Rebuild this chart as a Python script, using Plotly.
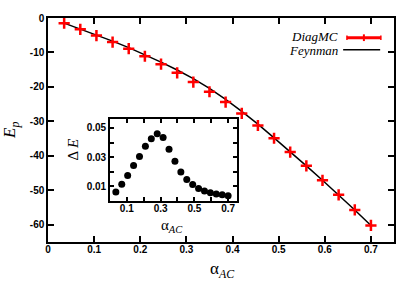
import plotly.graph_objects as go

# ---- data ----
alpha = [0.035, 0.07, 0.105, 0.14, 0.175, 0.21, 0.245, 0.28, 0.315, 0.35,
         0.385, 0.42, 0.455, 0.49, 0.525, 0.56, 0.595, 0.63, 0.665, 0.70]
ep_diagmc = [-1.5, -3.3, -5.1, -7.0, -8.9, -11.1, -13.4, -15.9, -18.6, -21.4,
             -24.4, -27.7, -31.2, -34.9, -38.9, -42.9, -47.1, -51.3, -55.7, -60.2]
ep_feynman = [-1.5, -3.2, -4.9, -6.7, -8.6, -10.6, -12.8, -15.1, -17.6, -20.4,
              -23.6, -27.1, -30.8, -34.8, -38.8, -42.9, -47.1, -51.3, -55.7, -60.2]
delta_e = [0.006, 0.0113, 0.0174, 0.0242, 0.0305, 0.0374, 0.0426, 0.046, 0.0435, 0.0354,
           0.0271, 0.0197, 0.0147, 0.0111, 0.0084, 0.0068, 0.0055, 0.0046, 0.0041, 0.0034]

main_xticks = [0, 0.1, 0.2, 0.3, 0.4, 0.5, 0.6, 0.7]
main_xlabels = ["0", "0.1", "0.2", "0.3", "0.4", "0.5", "0.6", "0.7"]
main_yticks = [0, -10, -20, -30, -40, -50, -60]
main_ylabels = ["0", "-10", "-20", "-30", "-40", "-50", "-60"]
inset_xticks = [0.1, 0.2, 0.3, 0.4, 0.5, 0.6, 0.7]
inset_xlabels = ["0.1", " ", "0.3", " ", "0.5", " ", "0.7"]
inset_yticks = [0.01, 0.02, 0.03, 0.04, 0.05]
inset_ylabels = ["0.01", " ", "0.03", " ", "0.05"]

tickfont = dict(family="Liberation Sans", size=10, color="black", weight="bold")
serif = "Liberation Serif, Times New Roman, serif"

fig = go.Figure()
fig.add_trace(go.Scatter(x=alpha, y=ep_feynman, mode="lines",
                         line=dict(color="black", width=1.5),
                         xaxis="x", yaxis="y", showlegend=False))
fig.add_trace(go.Scatter(x=alpha, y=ep_diagmc, mode="markers",
                         marker=dict(symbol="cross-thin", size=8, color="red",
                                     line=dict(color="red", width=2.5)),
                         xaxis="x", yaxis="y", showlegend=False))
fig.add_trace(go.Scatter(x=alpha, y=delta_e, mode="markers",
                         marker=dict(symbol="circle", size=7, color="black"),
                         xaxis="x2", yaxis="y2", showlegend=False))

axis_common = dict(showline=True, linecolor="black", linewidth=1.5, mirror="ticks",
                   ticks="inside", tickwidth=1.5, tickcolor="black",
                   showgrid=False, zeroline=False, tickfont=tickfont)

fig.update_layout(
    width=415, height=291,
    margin=dict(l=48, r=21, t=14, b=49),
    paper_bgcolor="white", plot_bgcolor="white",
    xaxis=dict(range=[0, 0.75], tickvals=main_xticks, ticktext=main_xlabels, ticklen=6,
               ticklabelstandoff=-3, domain=[0, 1], **axis_common),
    yaxis=dict(range=[-65, 0], tickvals=main_yticks, ticktext=main_ylabels, ticklen=6,
               domain=[0, 1], **axis_common),
    xaxis2=dict(range=[0, 0.75], tickvals=inset_xticks, ticktext=inset_xlabels, ticklen=4,
                ticklabelstandoff=-3, domain=[0.179, 0.545], anchor="y2", **axis_common),
    yaxis2=dict(range=[0, 0.056], tickvals=inset_yticks, ticktext=inset_ylabels, ticklen=4,
                domain=[0.184, 0.548], anchor="x2", **axis_common),
)

# axis titles
def title(x, y, text, size, angle=0):
    fig.add_annotation(x=x, y=y, xref="paper", yref="paper", text=text, textangle=angle,
                       showarrow=False, xanchor="center", yanchor="middle", borderpad=0,
                       font=dict(family=serif, size=size, color="black"))

title(0.503, -0.123, "α<sub><i>AC</i></sub>", 17)
title(-0.107, 0.5, "<i>E<sub>p</sub></i>", 17, -90)
title(0.358, 0.07, "α<sub><i>AC</i></sub>", 15)
title(0.072, 0.412, "Δ <i>E</i>", 15, -90)

# legend (text left, sample right)
legfont = dict(family=serif, size=13, color="black")
fig.add_annotation(x=0.841, y=0.916, xref="paper", yref="paper", text="<i>DiagMC</i>",
                   showarrow=False, xanchor="right", yanchor="middle", font=legfont, borderpad=0)
fig.add_annotation(x=0.841, y=0.856, xref="paper", yref="paper", text="<i>Feynman</i>",
                   showarrow=False, xanchor="right", yanchor="middle", font=legfont, borderpad=0)
fig.add_shape(type="line", xref="paper", yref="paper", x0=0.864, x1=0.962, y0=0.912, y1=0.912,
              line=dict(color="red", width=3))
fig.add_shape(type="line", xref="paper", yref="paper", x0=0.913, x1=0.913, y0=0.897, y1=0.927,
              line=dict(color="red", width=2))
fig.add_shape(type="line", xref="paper", yref="paper", x0=0.864, x1=0.864, y0=0.902, y1=0.922,
              line=dict(color="red", width=1.5))
fig.add_shape(type="line", xref="paper", yref="paper", x0=0.962, x1=0.962, y0=0.902, y1=0.922,
              line=dict(color="red", width=1.5))
fig.add_shape(type="line", xref="paper", yref="paper", x0=0.853, x1=0.960, y0=0.858, y1=0.858,
              line=dict(color="black", width=1.5))

fig.write_html("out.html", config={"displayModeBar": False},
               post_script="document.body.style.margin='0';")
